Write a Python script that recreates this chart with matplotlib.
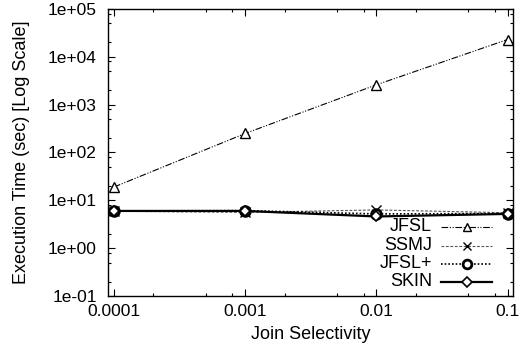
import matplotlib
matplotlib.use("Agg")
import matplotlib.pyplot as plt
from matplotlib.ticker import LogLocator, NullFormatter

plt.rcParams['font.family'] = ['Liberation Sans', 'DejaVu Sans']

selectivity = [0.0001, 0.001, 0.01, 0.1]
x_labels = ["0.0001", "0.001", "0.01", "0.1"]
jfsl = [19, 250, 2600, 23000]
ssmj = [5.9, 5.6, 6.3, 5.5]
jfsl_plus = [6.0, 6.1, 5.2, 5.3]
skin = [6.0, 6.0, 4.6, 5.2]
series_names = ["JFSL", "SSMJ", "JFSL+", "SKIN"]
y_ticks = [1e-1, 1e0, 1e1, 1e2, 1e3, 1e4, 1e5]
y_labels = ["1e-01", "1e+00", "1e+01", "1e+02", "1e+03", "1e+04", "1e+05"]

styles = [
    dict(color='black', lw=0.8, dashes=[6, 1.5, 1, 1.5, 1, 1.5],
         marker='^', ms=7, mfc='white', mec='black', mew=1.0),
    dict(color='#555555', lw=0.8, dashes=[2.5, 1.5],
         marker='x', ms=7, mec='black', mew=1.0),
    dict(color='black', lw=1.2, dashes=[1, 1.2],
         marker='o', ms=7, mfc='white', mec='black', mew=2.0),
    dict(color='black', lw=1.6, ls='-',
         marker='D', ms=5.5, mfc='white', mec='black', mew=1.2),
]

DPI = 100
L, R, T, B = 108, 513, 9, 296
fig = plt.figure(figsize=(5.31, 3.6), dpi=DPI)
ax = fig.add_axes([L/531, 1-B/360, (R-L)/531, (B-T)/360])

for name, vals, st in zip(series_names, [jfsl, ssmj, jfsl_plus, skin], styles):
    ax.plot(selectivity, vals, label=name, **st)

ax.set_xscale('log')
ax.set_yscale('log')
ax.set_xlim(0.00009, 0.11)
ax.set_ylim(1e-1, 1e5)

ax.set_xticks(selectivity)
ax.set_xticklabels(x_labels)
ax.set_yticks(y_ticks)
ax.set_yticklabels(y_labels)
ax.xaxis.set_minor_locator(LogLocator(base=10, subs=(2, 5, 8), numticks=20))
ax.yaxis.set_minor_locator(LogLocator(base=10, subs=(2, 5, 8), numticks=20))
ax.xaxis.set_minor_formatter(NullFormatter())
ax.yaxis.set_minor_formatter(NullFormatter())

ax.tick_params(which='both', direction='in', top=True, right=True, labelsize=12.5, width=0.8)
ax.tick_params(which='major', length=5)
ax.tick_params(axis='y', which='major', pad=8)
ax.tick_params(axis='x', which='major', pad=6)
ax.tick_params(which='minor', length=2.5)
for s in ax.spines.values():
    s.set_linewidth(1.0)

ax.set_xlabel('Join Selectivity', fontsize=13, labelpad=5)
ax.set_ylabel('Execution Time (sec) [Log Scale]', fontsize=13, labelpad=13)

# gnuplot-style key: right-aligned text, sample to the right
row_y_px = [227, 246, 264, 282]
def ax_x(px):
    return (px - L) / (R - L)
def ax_y(py):
    return (B - py) / (B - T)
for name, st, py in zip(series_names, styles, row_y_px):
    y = ax_y(py)
    line_st = {k: v for k, v in st.items() if k not in ('marker', 'ms', 'mfc', 'mec', 'mew')}
    ax.plot([ax_x(441), ax_x(492)], [y, y], transform=ax.transAxes, clip_on=False, **line_st)
    ax.plot([ax_x(467)], [y], transform=ax.transAxes, clip_on=False, ls='none',
            marker=st['marker'], ms=st['ms'] * 0.9, mfc=st.get('mfc', 'none'),
            mec=st['mec'], mew=st['mew'])
    ax.text(ax_x(432), y, name, transform=ax.transAxes, ha='right', va='center',
            fontsize=13)

fig.savefig('out.png', dpi=DPI)
